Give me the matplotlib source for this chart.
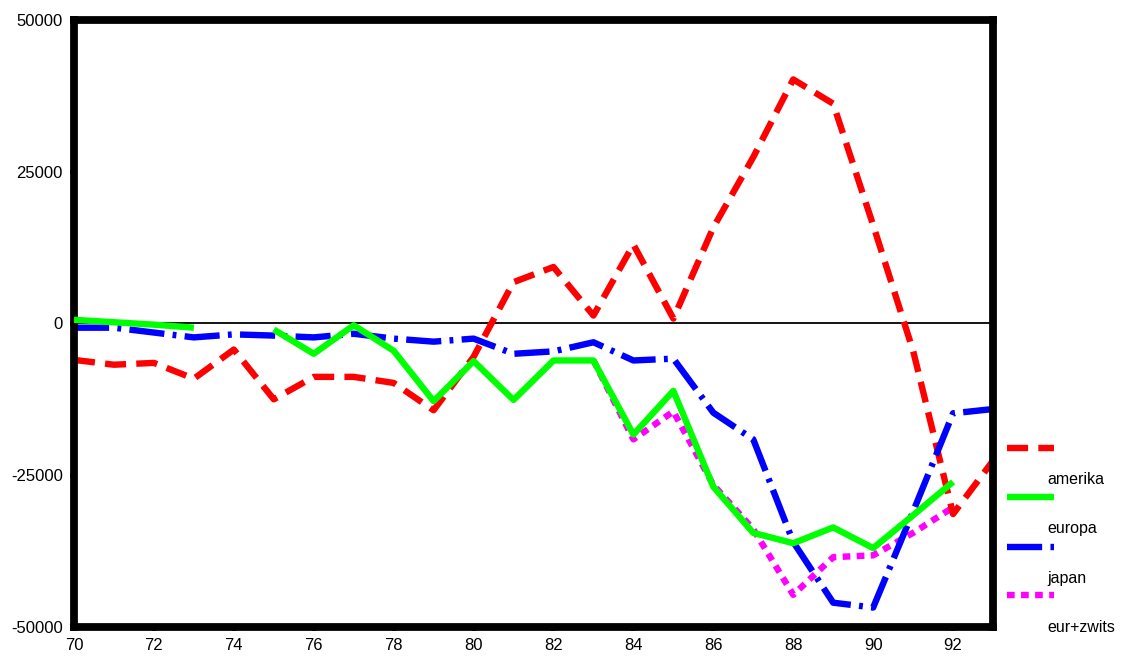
import numpy as np
import matplotlib
matplotlib.use("Agg")
import matplotlib.pyplot as plt
from matplotlib.lines import Line2D

# --- data ---
years = np.arange(70, 94)

amerika = [-6000, -6800, -6500, -9100, -4300, -12500, -8800, -8800, -9800, -14300,
           -5500, 6800, 9300, 1300, 13000, 800, 15800, 27400, 40200, 36200,
           16200, -4500, -31400, -22600]

europa = [600, 200, -200, -700, np.nan, -1000, -5000, -300, -4500, -12800,
          -6200, -12600, -6100, -6100, -18300, -11100, -26900, -34500, -36200, -33600,
          -37000, -31600, -26100, np.nan]

japan = [-700, -700, -1500, -2300, -1800, -2000, -2300, -1700, -2500, -3000,
         -2500, -5000, -4600, -3100, -6100, -5800, -14700, -19100, -36000, -46000,
         -46800, -31000, -14800, -14100]

eur_zwits = [np.nan] * 13 + [-6100, -19100, -14500, -26600, -33900, -44700, -38500,
                             -38200, -34500, -30300, np.nan]

legend_labels = ["amerika", "europa", "japan", "eur+zwits"]

plt.rcParams['font.family'] = ['Liberation Sans', 'DejaVu Sans']
plt.rcParams['axes.unicode_minus'] = False

fig = plt.figure(figsize=(11.26, 6.57), dpi=100)
ax = fig.add_axes([0.0657, 0.0457, 0.8162, 0.924])

lw = 4.6
styles = [
    dict(color='#ff0000', dashes=(3.3, 1.6)),               # amerika
    dict(color='#00ff00', linestyle='-'),                   # europa
    dict(color='#0000ff', dashes=(5.5, 1.3, 0.6, 1.3)),     # japan
    dict(color='#ff00ff', dashes=(1.2, 1.0)),               # eur+zwits
]

ax.axhline(0, color='black', lw=1.3, zorder=1)

series = [amerika, europa, japan, eur_zwits]
order = [3, 0, 2, 1]  # magenta first so green covers it
for i in order:
    ax.plot(years, series[i], lw=lw, solid_capstyle='butt', dash_capstyle='butt',
            zorder=2 + (i == 1), **styles[i])

ax.set_xlim(70, 93)
ax.set_ylim(-50000, 50000)
ax.set_xticks(np.arange(70, 93, 2))
ax.set_yticks([-50000, -25000, 0, 25000, 50000])
ax.tick_params(direction='out', length=3, width=3, labelsize=12, pad=5)
for s in ax.spines.values():
    s.set_linewidth(5.6)
    s.set_color('black')

# legend drawn by hand: labels sit half a row below their handles
hx0, hx1, tx = 1007 / 1126, 1054 / 1126, 1047 / 1126
rows_y = [448, 497, 547, 595]
for k, st in enumerate(styles):
    y = 1 - rows_y[k] / 657
    fig.add_artist(Line2D([hx0, hx1], [y, y], transform=fig.transFigure, lw=lw,
                          solid_capstyle='butt', dash_capstyle='butt', **st))
    fig.text(tx, 1 - (rows_y[k] + 32) / 657, legend_labels[k], fontsize=11.5,
             va='center', ha='left')

fig.savefig("out.png", dpi=100)
